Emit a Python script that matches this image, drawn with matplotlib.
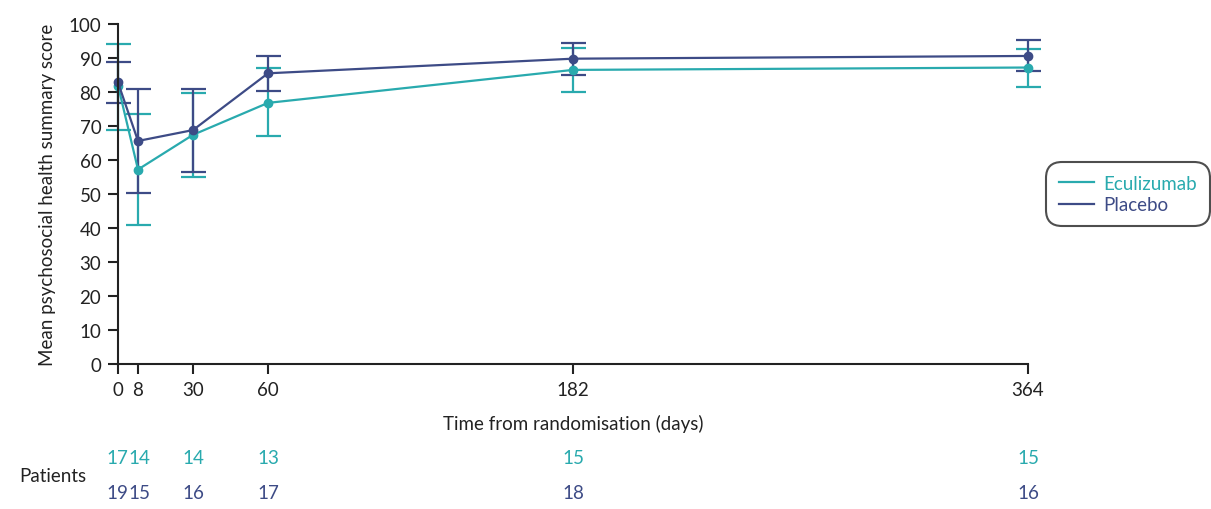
import matplotlib
matplotlib.use("Agg")
import matplotlib.pyplot as plt
from matplotlib.transforms import blended_transform_factory

plt.rcParams['font.family'] = ['Lato', 'DejaVu Sans']

days = [0, 8, 30, 60, 182, 364]

ecu_mean = [81.9, 57.2, 67.4, 76.8, 86.5, 87.2]
ecu_upper = [94.1, 73.6, 79.7, 87.2, 93.0, 92.6]
ecu_lower = [68.9, 40.8, 55.0, 67.0, 80.1, 81.6]

pla_mean = [82.8, 65.6, 68.8, 85.5, 89.8, 90.6]
pla_upper = [88.9, 80.9, 80.9, 90.5, 94.4, 95.4]
pla_lower = [76.8, 50.4, 56.6, 80.2, 85.1, 86.1]

ecu_n = [17, 14, 14, 13, 15, 15]
pla_n = [19, 15, 16, 17, 18, 16]

TEAL = '#29AAAE'
NAVY = '#3D4B86'
FS = 13.5

fig = plt.figure(figsize=(12.11, 5.10), dpi=100)
ax = fig.add_axes([118 / 1211, 1 - 365 / 510, 910 / 1211, 340 / 510])

def draw(mean, lo, hi, color, label):
    yerr = [[m - l for m, l in zip(mean, lo)], [h - m for m, h in zip(mean, hi)]]
    ax.errorbar(days, mean, yerr=yerr, color=color, lw=1.6, marker='o', ms=6,
                capsize=9, capthick=1.6, elinewidth=1.6, label=label, clip_on=False)

draw(ecu_mean, ecu_lower, ecu_upper, TEAL, 'Eculizumab')
draw(pla_mean, pla_lower, pla_upper, NAVY, 'Placebo')

ax.set_xlim(0, 364)
ax.set_ylim(0, 100)
ax.set_xticks(days)
ax.set_xticklabels(['0', '8', '30', '60', '182', '364'])
ax.set_yticks(range(0, 101, 10))
for s in ['top', 'right']:
    ax.spines[s].set_visible(False)
for s in ['left', 'bottom']:
    ax.spines[s].set_linewidth(1.5)
    ax.spines[s].set_color('#222222')
ax.tick_params(axis='both', direction='out', length=7, width=1.5, labelsize=FS,
               colors='#222222', pad=5)
ax.set_xlabel('Time from randomisation (days)', fontsize=FS, color='#222222', labelpad=12)
ax.set_ylabel('Mean psychosocial health summary score', fontsize=FS, color='#222222', labelpad=9)

tr = blended_transform_factory(ax.transData, ax.transAxes)
for d, ne, np_ in zip(days, ecu_n, pla_n):
    ha = 'center'
    if d == 0:
        ha = 'right'
    elif d == 8:
        ha = 'left'
    xpos = 4 if d in (0, 8) else d
    ax.text(xpos, -0.275, str(ne), transform=tr, ha=ha, va='center', fontsize=FS, color=TEAL)
    ax.text(xpos, -0.378, str(np_), transform=tr, ha=ha, va='center', fontsize=FS, color=NAVY)
fig.text(19 / 1211, 1 - 477 / 510, 'Patients', ha='left', va='center', fontsize=FS, color='#222222')

handles = [plt.Line2D([], [], color=TEAL, lw=1.6), plt.Line2D([], [], color=NAVY, lw=1.6)]
leg = fig.legend(handles, ['Eculizumab', 'Placebo'], loc='center',
                 bbox_to_anchor=(1128 / 1211, 1 - 195 / 510), fontsize=FS,
                 frameon=True, fancybox=True, handlelength=1.9, handletextpad=0.5,
                 borderpad=0.7, labelspacing=0.25)
frame = leg.get_frame()
frame.set_edgecolor('#222222')
frame.set_linewidth(1.5)
frame.set_boxstyle('round,pad=0,rounding_size=0.9')
for t, c in zip(leg.get_texts(), [TEAL, NAVY]):
    t.set_color(c)

fig.savefig('out.png', dpi=100)
